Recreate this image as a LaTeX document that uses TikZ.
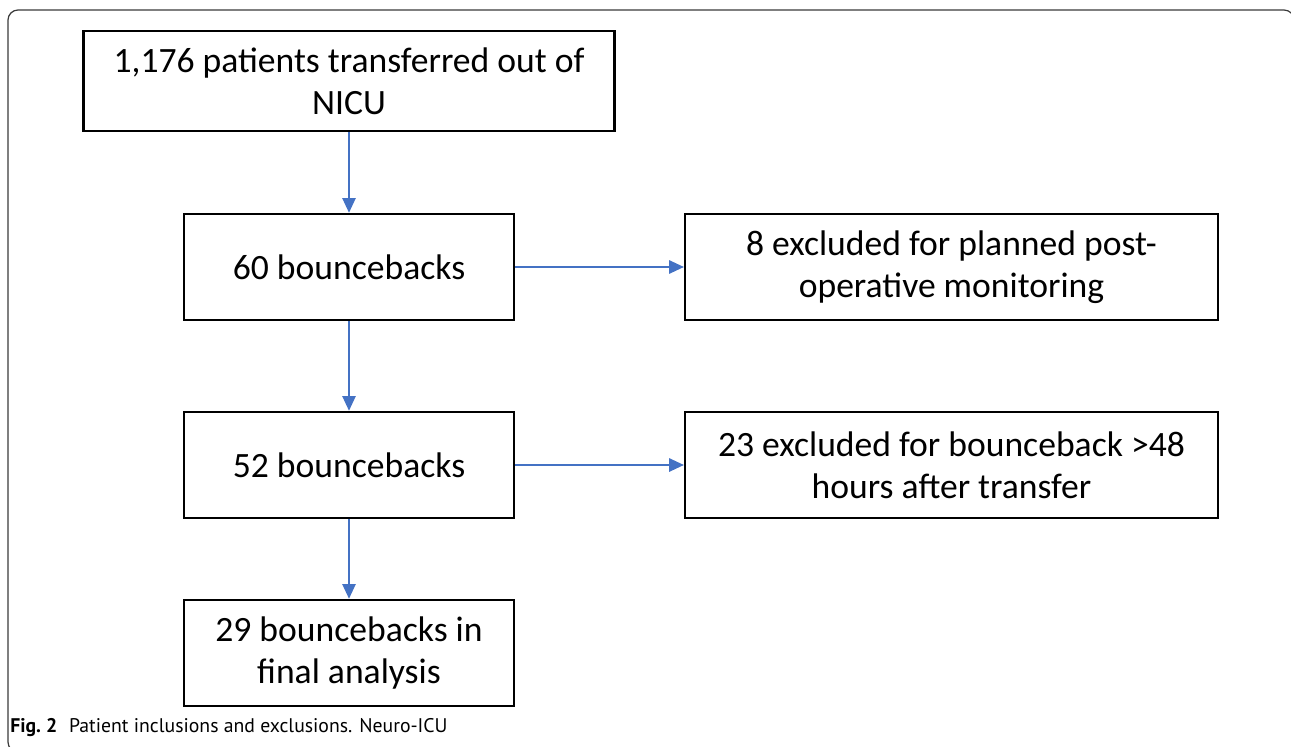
\documentclass[tikz,border=0pt]{standalone}
\usepackage{fontspec}
\setmainfont{Carlito}
\newfontfamily\capfont{PT Sans}
\usepackage{xcolor}
\usetikzlibrary{arrows.meta}
\definecolor{arrblue}{HTML}{4472C4}
\definecolor{framegray}{HTML}{3A3A3A}

\begin{document}
\begin{tikzpicture}[x=0.75pt,y=-0.75pt]
\tikzstyle{box}=[draw=black,line width=1.9pt,align=center,inner sep=0pt,
  font=\fontsize{26.7pt}{31.5pt}\selectfont];
\tikzstyle{narrowbox}=[box,minimum width=247.5pt,minimum height=79.5pt];
\tikzstyle{widebox}=[box,minimum width=399.5pt,minimum height=79.5pt];
\tikzstyle{arr}=[draw=arrblue,line width=1.1pt,-{Triangle[length=11pt,width=10pt]}];
\useasboundingbox (0,0) rectangle (1291,746);
\begin{scope}
\clip (0,0) rectangle (1291,746);
\draw[framegray,line width=0.9pt,rounded corners=7.5pt] (8,10) rectangle (1294,752);
\end{scope}
\path (349,81) node[box,minimum width=398.5pt,minimum height=75pt] (b1) {1,176 patients transferred out of\\NICU};
\path (349,267) node[narrowbox] (b2) {60 bouncebacks};
\path (951.5,267) node[widebox] (b3) {8 excluded for planned post-\\operative monitoring};
\path (349,465) node[narrowbox] (b4) {52 bouncebacks};
\path (951.5,465) node[widebox] (b5) {23 excluded for bounceback >48\\hours after transfer};
\path (349,653) node[narrowbox] (b6) {29 bouncebacks in\\final analysis};
\path (10,732) node[anchor=base west,inner sep=0pt,font=\capfont\fontsize{14.8pt}{17pt}\selectfont] (cap)
  {\textbf{Fig.~2}\hspace{0.6em}Patient inclusions and exclusions. Neuro-ICU};
\draw[arr] (b1) -- (b2);
\draw[arr] (b2) -- (b3);
\draw[arr] (b2) -- (b4);
\draw[arr] (b4) -- (b5);
\draw[arr] (b4) -- (b6);
\end{tikzpicture}
\end{document}
